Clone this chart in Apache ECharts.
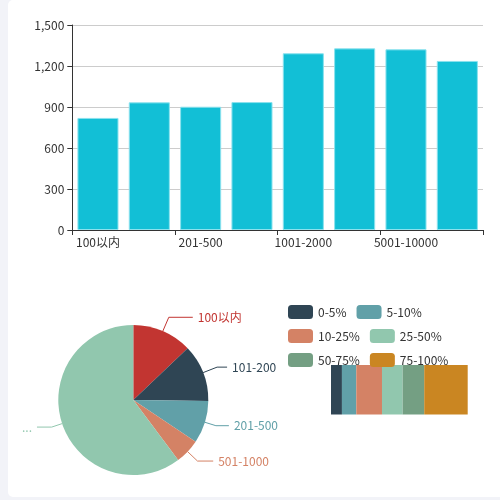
<!DOCTYPE html>
<html>
<head>
<meta charset="utf-8">
<script src="https://cdn.jsdelivr.net/npm/echarts@6/dist/echarts.min.js"></script>
<style>
html,body{margin:0;padding:0;width:500px;height:500px;background:#f2f3f8;overflow:hidden;}
#card{position:absolute;left:8px;top:0;width:510px;height:497px;background:#fff;border-radius:5px;}
#chart{position:absolute;left:0;top:0;width:500px;height:500px;}
</style>
</head>
<body>
<div id="card"></div>
<div id="chart"></div>
<script>
const barCategories = ['100以内','101-200','201-500','501-1000','1001-2000','2001-5000','5001-10000','10000以上'];
const barValues = [820, 934, 902, 936, 1293, 1329, 1322, 1237];
const yTicks = {min: 0, max: 1500, interval: 300};

const pieNames = ['100以内','101-200','201-500','501-1000','1000以上'];
const pieValues = [12.9, 12.3, 9.2, 5.4, 60.2];
const pieLabels = ['100以内','101-200','201-500','501-1000','...'];

const rangeNames = ['0-5%','5-10%','10-25%','25-50%','50-75%','75-100%'];
const rangeValues = [8.0, 10.5, 18.8, 15.1, 15.8, 31.8];

const palette = ['#c23531','#2f4554','#61a0a8','#d48265','#91c7ae','#749f83','#ca8622'];
const rangeColors = ['#2f4554','#61a0a8','#d48265','#91c7ae','#749f83','#ca8622'];
const pieLineLen = [15, 15, 11.5, 13.6, 11];
const pieLineLen2 = [24, 10, 13, 15.7, 14.7];
const font = '"Noto Sans CJK SC", "Microsoft YaHei", sans-serif';

const chart = echarts.init(document.getElementById('chart'));
const option = {
  animation: false,
  textStyle: {fontFamily: font},
  color: palette,
  legend: {
    data: rangeNames,
    left: 283, top: 300, width: 190,
    icon: 'roundRect', itemWidth: 25, itemHeight: 14, itemGap: 10,
    textStyle: {color: '#333', fontSize: 12, fontFamily: font}
  },
  grid: [
    {left: 72.3, right: 17, top: 25, height: 205},
    {left: 331, top: 365, width: 136.7, height: 49.5}
  ],
  xAxis: [
    {type: 'category', gridIndex: 0, data: barCategories,
     axisLine: {show: true, lineStyle: {color: '#333'}},
     axisTick: {show: true, length: 5},
     axisLabel: {color: '#333', fontSize: 12, margin: 6, fontFamily: font}},
    {type: 'value', gridIndex: 1, show: false, min: 0, max: 'dataMax'}
  ],
  yAxis: [
    {type: 'value', gridIndex: 0, min: yTicks.min, max: yTicks.max, interval: yTicks.interval,
     axisLine: {show: true, lineStyle: {color: '#333'}},
     axisTick: {show: true, length: 5},
     splitLine: {lineStyle: {color: '#ccc'}},
     axisLabel: {color: '#333', fontSize: 12, margin: 8, fontFamily: font}},
    {type: 'category', gridIndex: 1, show: false, data: ['']}
  ],
  series: [
    {type: 'bar', xAxisIndex: 0, yAxisIndex: 0, data: barValues,
     barCategoryGap: '20%',
     itemStyle: {color: '#12bfd6', borderColor: '#8be2ee', borderWidth: 1}},
    {type: 'pie', center: [133.3, 400], radius: 75, startAngle: 90,
     avoidLabelOverlap: false,
     data: pieNames.map((n, i) => ({name: n, value: pieValues[i],
       itemStyle: {color: palette[i]},
       label: {color: palette[i]},
       labelLine: {length: pieLineLen[i], length2: pieLineLen2[i], lineStyle: {color: palette[i]}}})),
     label: {fontSize: 12, fontFamily: font,
       formatter: p => pieLabels[p.dataIndex]}
    },
    ...rangeNames.map((n, i) => ({
      type: 'bar', name: n, xAxisIndex: 1, yAxisIndex: 1, stack: 'range',
      barWidth: '100%', data: [rangeValues[i]],
      itemStyle: {color: rangeColors[i]}
    }))
  ]
};
chart.setOption(option);
</script>
</body>
</html>
